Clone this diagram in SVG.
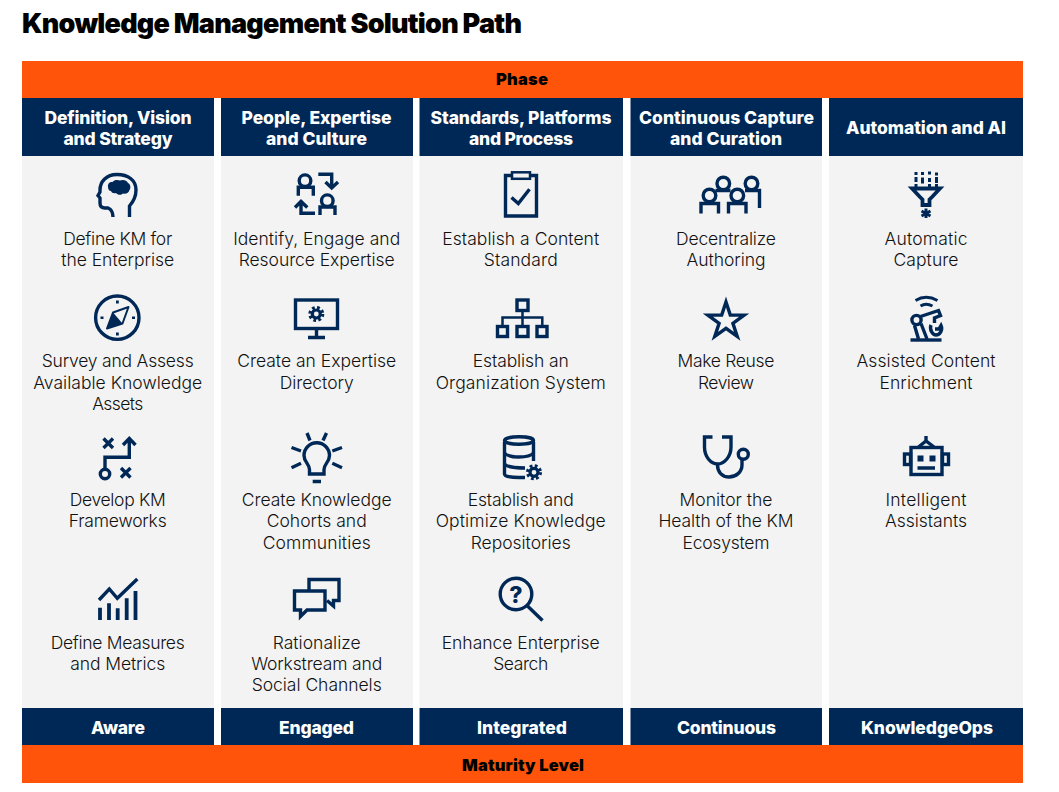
<svg xmlns="http://www.w3.org/2000/svg" xmlns:xlink="http://www.w3.org/1999/xlink" width="1059" height="792" viewBox="0 0 1059 792">
<style>
text{text-anchor:middle;font-family:Inter,"Liberation Sans",sans-serif}
.t{font-size:17.5px;font-weight:300;fill:#111}
.h{font-size:17.5px;font-weight:800;fill:#fff}
.o{font-size:16.5px;font-weight:900;fill:#000}
.ti{font-size:27px;font-weight:900;fill:#000}
.i{fill:none;stroke:#002856;stroke-width:3.400;stroke-miterlimit:10}
.f{fill:#002856}
.band{fill:#ff540a}.nav{fill:#002856}.panel{fill:#f3f3f3}
</style>
<defs>
<g id="gear"><circle r="4" fill="none" stroke="#002856" stroke-width="3.200"/><circle r="6.200" fill="none" stroke="#002856" stroke-width="3.600" stroke-dasharray="2.600 2.270"/></g>
</defs>
<rect width="1059" height="792" fill="#fff"/>
<text id="title" class="ti" x="272" y="33" textLength="500">Knowledge Management Solution Path</text>
<g id="phase"><rect class="band" x="22" y="61" width="1001" height="37"/><text class="o" x="522" y="85" textLength="52">Phase</text></g>
<g id="maturity"><rect class="band" x="22" y="745" width="1001" height="38"/><text class="o" x="523" y="771" textLength="122">Maturity Level</text></g>

<g id="col1">
<rect class="panel" x="22" y="156" width="192" height="552"/>
<rect class="nav" x="22" y="98" width="192" height="58"/>
<text class="h" x="118" y="123.500" textLength="147">Definition, Vision</text><text class="h" x="118" y="144.500" textLength="109">and Strategy</text>
<rect class="nav" x="22" y="708" width="192" height="37"/><text class="h" x="118" y="733.500" textLength="54">Aware</text>
</g>
<g id="col2">
<rect class="panel" x="221" y="156" width="192" height="552"/>
<rect class="nav" x="221" y="98" width="192" height="58"/>
<text class="h" x="316.500" y="123.500" textLength="150">People, Expertise</text><text class="h" x="316.500" y="144.500" textLength="101">and Culture</text>
<rect class="nav" x="221" y="708" width="192" height="37"/><text class="h" x="316.500" y="733.500" textLength="75">Engaged</text>
</g>
<g id="col3">
<rect class="panel" x="419.500" y="156" width="203.500" height="552"/>
<rect class="nav" x="419.500" y="98" width="203.500" height="58"/>
<text class="h" x="521" y="123.500" textLength="181">Standards, Platforms</text><text class="h" x="521" y="144.500" textLength="104">and Process</text>
<rect class="nav" x="419.500" y="708" width="203.500" height="37"/><text class="h" x="522" y="733.500" textLength="90">Integrated</text>
</g>
<g id="col4">
<rect class="panel" x="630.500" y="156" width="191.500" height="552"/>
<rect class="nav" x="630.500" y="98" width="191.500" height="58"/>
<text class="h" x="726.500" y="123.500" textLength="175">Continuous Capture</text><text class="h" x="726" y="144.500" textLength="112">and Curation</text>
<rect class="nav" x="630.500" y="708" width="191.500" height="37"/><text class="h" x="726.500" y="733.500" textLength="99">Continuous</text>
</g>
<g id="col5">
<rect class="panel" x="829" y="156" width="194" height="552"/>
<rect class="nav" x="829" y="98" width="194" height="58"/>
<text class="h" x="926" y="133.500" textLength="160">Automation and AI</text>
<rect class="nav" x="829" y="708" width="194" height="37"/><text class="h" x="927" y="733.500" textLength="132">KnowledgeOps</text>
</g>

<g id="define-km">
<path class="i" d="M129.500 217V206C133 202 136 198 136 190C136 180 128 174.500 117 174.500C106 174.500 100 182 100 190V192L98 195.500L100 198V203Q100 208 105 208H108Q113 210 113 217"/>
<path class="f" d="M108 187C107.500 183.500 110 181.500 112.500 182C114 179.500 118 179.500 120 180.500C123 179 127 180.500 128 183C130.500 184 131 188 129.500 190C129 193 125.500 194.500 123 193.500C121 195.500 117.500 195 116 193C114 193.500 111.500 193 111 191C109 191 108 189 108 187Z"/>
<text class="t" x="117.700" y="245" textLength="109">Define KM for</text><text class="t" x="117.700" y="266" textLength="113">the Enterprise</text>
</g>
<g id="survey">
<circle class="i" cx="117.300" cy="317.700" r="21.700"/>
<path class="f" d="M116 300.500h2.800v3h-2.800zM116 332.500h2.800v3h-2.800zM100.500 316.500h3v2.500h-3zM132 316.500h3v2.500h-3z"/>
<path class="i" style="stroke-width:2;stroke-linejoin:round" d="M128.500 307L122.500 323.500L107 328.500L113 312.500Z"/>
<path class="f" d="M107 328.500L113 312.500L122.500 323.500Z"/>
<text class="t" x="117.700" y="367" textLength="152">Survey and Assess</text><text class="t" x="117.700" y="388.500" textLength="169">Available Knowledge</text><text class="t" x="117.700" y="409.500" textLength="51">Assets</text>
</g>
<g id="frameworks">
<path class="i" d="M103.500 438.500L113 448M113 438.500L103.500 448M121 468L130.500 477.500M130.500 468L121 477.500"/>
<circle class="i" cx="105" cy="474" r="4.700"/>
<path class="i" d="M105 469V457.300H129.300V439M123 445L129.300 438.500L135.500 445"/>
<text class="t" x="117.700" y="506" textLength="96">Develop KM</text><text class="t" x="117.700" y="527" textLength="98">Frameworks</text>
</g>
<g id="measures">
<path class="i" style="stroke-width:3.800" d="M100 620V607.700M109 620V603.300M117.700 620V608.300M126.700 620V598.300M135.500 620V591"/>
<path class="i" d="M99 600L109.300 589L117.300 598.300L137.300 579"/>
<text class="t" x="117.700" y="649" textLength="134">Define Measures</text><text class="t" x="117.700" y="670" textLength="95">and Metrics</text>
</g>

<g id="identify">
<circle class="i" cx="305" cy="180.700" r="5.800"/><path class="i" d="M298.300 195.700V187.300H313.300V195.700"/>
<circle class="i" cx="327.300" cy="200.700" r="5.800"/><path class="i" d="M320 215V207H335V215"/>
<path class="i" d="M318.300 174.300H331.700V187M325.500 182L331.700 188L338 182M315 213.300H301V202.500M295 207.500L301 201.500L307.300 207.500"/>
<text class="t" x="316.700" y="245" textLength="167">Identify, Engage and</text><text class="t" x="316.700" y="266" textLength="156">Resource Expertise</text>
</g>
<g id="directory">
<rect class="i" x="295.500" y="300" width="42" height="28.500"/><path class="i" d="M316.500 329V337M308 337.500H325"/>
<use xlink:href="#gear" href="#gear" x="316.300" y="314"/>
<text class="t" x="316.700" y="367" textLength="159">Create an Expertise</text><text class="t" x="316.700" y="388.500" textLength="74">Directory</text>
</g>
<g id="cohorts">
<path class="i" d="M309.500 474V469.500C309.500 464 304 462 304 455.500A12.600 12.600 0 0 1 329.500 455.500C329.500 462 324 464 324 469.500V474ZM312.700 481.500H321M307 433L310 440.500M326.500 433L323 440.500M291.500 447.500L301 451M291.500 467.700L301 463.300M342 447.500L332.300 451M342 467.700L332.300 463.300"/>
<text class="t" x="316.700" y="506" textLength="150">Create Knowledge</text><text class="t" x="316.700" y="527" textLength="100">Cohorts and</text><text class="t" x="316.700" y="548.500" textLength="108">Communities</text>
</g>
<g id="workstream">
<path class="i" d="M294.500 591H325V610H307L300.500 616.500V610H294.500Z"/>
<path class="i" d="M309 590V579.500H339V600.500H333.500V606L327 600.500"/>
<text class="t" x="316.700" y="649" textLength="88">Rationalize</text><text class="t" x="316.700" y="670" textLength="131">Workstream and</text><text class="t" x="316.700" y="691" textLength="130">Social Channels</text>
</g>

<g id="standard">
<path class="i" d="M511 175.500H505.500V216H536.500V175.500H531"/><rect class="i" style="stroke-width:2.500" x="512" y="172.300" width="18" height="6.500"/>
<path class="i" d="M511.500 197.500L518.300 203.500L529.500 189.300"/>
<text class="t" x="520.700" y="245" textLength="157">Establish a Content</text><text class="t" x="520.700" y="266" textLength="74">Standard</text>
</g>
<g id="organization">
<rect class="i" x="517" y="300" width="11" height="10.500"/><rect class="i" x="497.500" y="326.500" width="10" height="10"/><rect class="i" x="517" y="326.500" width="11" height="10"/><rect class="i" x="537" y="326.500" width="10" height="10"/>
<path class="i" style="stroke-width:2.500" d="M522.500 310.500V326M502.500 326V317.500H542.300V326"/>
<text class="t" x="520.700" y="367" textLength="96">Establish an</text><text class="t" x="520.700" y="388.500" textLength="170">Organization System</text>
</g>
<g id="repositories">
<path class="i" d="M504.500 442V474C504.500 476.500 511 477.500 519 477.500H525M533.500 442V461"/>
<ellipse class="i" cx="519" cy="440.500" rx="14.500" ry="3.700"/>
<path class="i" d="M504.500 453C507 456 514 457 519 457C524 457 531 456 533.500 453M504.500 464C507 467 514 468 525 468"/>
<use xlink:href="#gear" href="#gear" x="534" y="472.300"/>
<text class="t" x="520.700" y="506" textLength="106">Establish and</text><text class="t" x="520.700" y="527" textLength="170">Optimize Knowledge</text><text class="t" x="520.700" y="548.500" textLength="100">Repositories</text>
</g>
<g id="search">
<circle class="i" cx="516" cy="594" r="15.800"/><path class="i" d="M527.500 606L542.500 620.500"/>
<text x="516" y="602.500" style="font-size:23px;font-weight:800;fill:#002856">?</text>
<text class="t" x="520.700" y="649" textLength="158">Enhance Enterprise</text><text class="t" x="520.700" y="670" textLength="55">Search</text>
</g>

<g id="decentralize">
<circle class="i" cx="709.500" cy="195.500" r="6.300"/><circle class="i" cx="723.300" cy="183.500" r="6.300"/><circle class="i" cx="737.300" cy="195.500" r="6.300"/><circle class="i" cx="751.500" cy="183.500" r="6.300"/>
<path class="i" d="M701 213.500V203.500H718.500V213.500M728.500 213.500V203.500H746V213.500M715.500 190.500H730.500M745 190.500H759.500V208"/>
<text class="t" x="726" y="245" textLength="100">Decentralize</text><text class="t" x="726" y="266" textLength="79">Authoring</text>
</g>
<g id="reuse">
<path class="i" d="M726 302L730.300 315.100L744.100 315.100L732.900 323.300L737.200 336.400L726 328.300L714.800 336.400L719.100 323.300L707.900 315.100L721.700 315.100Z"/>
<text class="t" x="726" y="367" textLength="97">Make Reuse</text><text class="t" x="726" y="388.500" textLength="56">Review</text>
</g>
<g id="monitor">
<path class="i" d="M712.500 437H704.500V447C704.500 457 711 464 717.500 464C724 464 731 457 731 447V437H722M717.500 464V465C717.500 472 722 477 729 477C736 477 742 472 742 465V460"/>
<circle class="i" cx="743.300" cy="454.300" r="5"/>
<text class="t" x="726" y="506" textLength="93">Monitor the</text><text class="t" x="726" y="527" textLength="135">Health of the KM</text><text class="t" x="726" y="548.500" textLength="87">Ecosystem</text>
</g>

<g id="capture">
<path class="f" d="M914.500 172h3v3h-3zM921 172h3v3h-3zM928 171.500h3v3h-3zM935 172.500h3v3h-3zM914.500 177h3v5h-3zM921 177.500h3v6h-3zM928 178h3v4h-3zM935 177h3v6h-3zM914.500 184h3v3h-3zM935 184h3v3h-3zM928 184h3v3h-3z"/>
<path class="i" style="stroke-width:3.800" d="M912 188.500H940L932 197L929.500 199.500V205H922.500V199.500L920 197Z"/>
<path class="i" style="stroke-width:3" d="M926 208.500V218M921.500 211L930.500 216M930.500 211L921.500 216"/>
<text class="t" x="926" y="245" textLength="83">Automatic</text><text class="t" x="926" y="266" textLength="65">Capture</text>
</g>
<g id="enrichment">
<path class="i" style="stroke-width:2.800" d="M915.500 300.500Q926 294 937.500 300.500M920.500 306Q926 302.500 932.500 306"/>
<circle class="i" cx="916.500" cy="320" r="4.600"/>
<path class="i" d="M920.500 316.500L938.500 310.500L940.500 315.500L934.500 318V323M914.500 325.500L918.500 339M921 323.500L927 339M931 325C929 330 933 335 936 335C940 335 943 330 941 325.500L939 329H935"/>
<path class="i" d="M910.500 340H941.500"/>
<text class="t" x="926" y="367" textLength="139">Assisted Content</text><text class="t" x="926" y="388.500" textLength="93">Enrichment</text>
</g>
<g id="assistants">
<rect class="i" x="911" y="447.500" width="31" height="27"/>
<rect class="i" x="904.500" y="454" width="6" height="10.500"/><rect class="i" x="942.500" y="454" width="6" height="10.500"/>
<path class="i" d="M918.500 447L926 441L934 447M926 436V440M917.500 468H935"/>
<path class="f" d="M917.500 455.500h6v6h-6zM929.500 455.500h6v6h-6z"/>
<text class="t" x="926" y="506" textLength="81">Intelligent</text><text class="t" x="926" y="527" textLength="82">Assistants</text>
</g>
</svg>
